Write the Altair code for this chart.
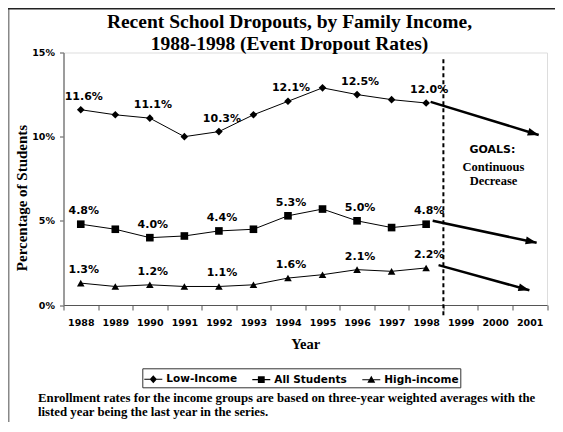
import math
import altair as alt
import pandas as pd

# ---------------- data ----------------
years = [1988, 1989, 1990, 1991, 1992, 1993, 1994, 1995, 1996, 1997, 1998]
axis_years = ["1988", "1989", "1990", "1991", "1992", "1993", "1994",
              "1995", "1996", "1997", "1998", "1999", "2000", "2001"]
series_names = ["Low-Income", "All Students", "High-income"]
low_income = [11.6, 11.3, 11.1, 10.0, 10.3, 11.3, 12.1, 12.9, 12.5, 12.2, 12.0]
all_students = [4.8, 4.5, 4.0, 4.1, 4.4, 4.5, 5.3, 5.7, 5.0, 4.6, 4.8]
high_income = [1.3, 1.1, 1.2, 1.1, 1.1, 1.2, 1.6, 1.8, 2.1, 2.0, 2.2]
labelled_years = [1988, 1990, 1992, 1994, 1996, 1998]

# goal arrows (year, percent)
goal_start_year = [1998.13, 1998.19, 1998.36]
goal_start_value = [12.07, 5.0, 2.37]
goal_end_year = [2001.26, 2001.2, 2000.99]
goal_end_value = [10.1, 3.7, 0.88]

divider_year = [1998.5]
divider_top = [14.6]
divider_bottom = [-0.7]

goals_head = ["GOALS:"]
goals_head_pos = [(1999.92, 9.2)]
goals_notes = ["Continuous", "Decrease"]
goals_notes_pos = [(1999.95, 8.2), (1999.95, 7.35)]

title_lines = ["Recent School Dropouts, by Family Income,",
               "1988-1998 (Event Dropout Rates)"]
footnote_lines = ["Enrollment rates for the income groups are based on three-year weighted averages with the",
                  "listed year being the last year in the series."]

# ---------------- layout ----------------
W, H = 483.5, 252.5
PAD = {"left": 55.5, "top": 44.5, "right": 8, "bottom": 117}

rows = []
for name, vals in zip(series_names, [low_income, all_students, high_income]):
    for yr, v in zip(years, vals):
        rows.append({"year": str(yr), "series": name, "value": v,
                     "label": (f"{v:.1f}%" if yr in labelled_years else "")})
df = pd.DataFrame(rows)

px_year = W / 14.0
px_pct = H / 15.0
goal_df = pd.DataFrame({
    "series": series_names,
    "x0": goal_start_year, "v0": goal_start_value,
    "x1": goal_end_year, "v1": goal_end_value,
})
goal_df["angle"] = [math.degrees(math.atan2((a - b) * px_pct, (d - c) * px_year))
                    for a, b, c, d in zip(goal_start_value, goal_end_value,
                                          goal_start_year, goal_end_year)]
div_df = pd.DataFrame({"x": divider_year, "top": divider_top, "bottom": divider_bottom})
head_df = pd.DataFrame({"text": goals_head, "x": [p[0] for p in goals_head_pos],
                        "y": [p[1] for p in goals_head_pos]})
notes_df = pd.DataFrame({"text": goals_notes, "x": [p[0] for p in goals_notes_pos],
                         "y": [p[1] for p in goals_notes_pos]})

SANS = "DejaVu Sans"
SERIF = "Liberation Serif"

yscale = alt.Scale(domain=[0, 15], nice=False)
yaxis = alt.Axis(values=[0, 5, 10, 15], labelExpr="datum.value + '%'",
                 title="Percentage of Students", titleFont=SERIF, titleFontSize=15,
                 titleFontWeight="bold", titleColor="black", titleX=-42, titleY=145,
                 titleAlign="center", titleBaseline="middle",
                 labelFont=SANS, labelFontWeight="bold", labelFontSize=9.5,
                 labelColor="black", labelPadding=5, tickSize=4, tickColor="#555",
                 domainColor="#808080", domainWidth=1.5, grid=False)


def yq(field):
    return alt.Y(field, type="quantitative", scale=yscale, axis=yaxis)


xscale_o = alt.Scale(domain=axis_years, paddingInner=0, paddingOuter=0)
xaxis = alt.Axis(title="Year", titleFont=SERIF, titleFontSize=14.5, titleFontWeight="bold",
                 titleColor="black", titleY=39, titleBaseline="middle",
                 labelAngle=0, labelFont=SANS, labelFontWeight="bold", labelFontSize=9.5,
                 labelColor="black", labelPadding=7, tickSize=5, tickBand="extent",
                 domainColor="#555", domainWidth=1.2, tickColor="#555", grid=False)
X = alt.X("year:O", scale=xscale_o, axis=xaxis)

xq_scale = alt.Scale(domain=[1987.5, 2001.5], nice=False, zero=False)


def xq(field):
    return alt.X(field, type="quantitative", scale=xq_scale, axis=None)


base = alt.Chart(df)
lines = base.mark_line(color="black", strokeWidth=1).encode(x=X, y=yq("value"), detail="series:N")
points = base.mark_point(filled=True, color="black", opacity=1, size=58).encode(
    x=X, y=yq("value"),
    shape=alt.Shape("series:N", scale=alt.Scale(domain=series_names,
                                                range=["diamond", "square", "triangle-up"]),
                    legend=None))
labels = base.transform_filter("datum.label != ''").mark_text(
    font=SANS, fontWeight="bold", fontSize=11, color="black", dx=3, dy=-13
).encode(x=X, y=yq("value"), text="label:N")

# legend symbols: a short line with the series marker on it (closed, clockwise paths)
legend_paths = [
    "M-1,-0.06L1,-0.06L1,0.06L-1,0.06ZM0,-0.44L0.4,0L0,0.44L-0.4,0Z",
    "M-1,-0.06L1,-0.06L1,0.06L-1,0.06ZM-0.38,-0.38L0.38,-0.38L0.38,0.38L-0.38,0.38Z",
    "M-1,-0.06L1,-0.06L1,0.06L-1,0.06ZM0,-0.44L0.44,0.34L-0.44,0.34Z",
]
legend_layer = base.mark_point(filled=True, color="black", opacity=1, size=0).encode(
    x=X, y=yq("value"),
    shape=alt.Shape("series:N", scale=alt.Scale(domain=series_names, range=legend_paths),
                    legend=alt.Legend(orient="none", legendX=78.8, legendY=315.8,
                                      direction="horizontal", title=None,
                                      strokeColor="#333", padding=1,
                                      labelFont=SANS, labelFontWeight="bold",
                                      labelFontSize=10.5, labelColor="black",
                                      symbolSize=324, symbolFillColor="black",
                                      columnPadding=12, labelOffset=3)))

main = alt.layer(lines, points, labels, legend_layer).resolve_scale(shape="independent")

divider = alt.Chart(div_df).mark_rule(color="black", strokeWidth=2, strokeDash=[4, 3]).encode(
    x=xq("x"), y=yq("top"), y2="bottom")
arrows = alt.Chart(goal_df).mark_rule(color="black", strokeWidth=2.5).encode(
    x=xq("x0"), x2="x1", y=yq("v0"), y2="v1")
heads = alt.Chart(goal_df).mark_point(shape="M0,0L-1,-0.36L-1,0.36Z", filled=True,
                                      color="black", opacity=1, size=484).encode(
    x=xq("x1"), y=yq("v1"), angle=alt.Angle("angle:Q", scale=None))
goal_head = alt.Chart(head_df).mark_text(font=SANS, fontWeight="bold", fontSize=11,
                                         color="black").encode(
    x=xq("x"), y=yq("y"), text="text:N")
goal_notes = alt.Chart(notes_df).mark_text(font=SERIF, fontWeight="bold", fontSize=12.5,
                                           color="black").encode(
    x=xq("x"), y=yq("y"), text="text:N")

overlay = alt.layer(divider, arrows, heads, goal_head, goal_notes)

one = pd.DataFrame({"k": [0]})
frame_left = alt.Chart(one).mark_rule(color="#888", strokeWidth=1.5).encode(
    x=alt.value(-54.75), y=alt.value(-44.5), y2=alt.value(H + PAD["bottom"]))
frame_top = alt.Chart(one).mark_rule(color="#222", strokeWidth=1.5).encode(
    x=alt.value(-55.5), x2=alt.value(W + PAD["right"]), y=alt.value(-43.75))
title = alt.Chart(one).mark_text(text=title_lines, font=SERIF, fontWeight="bold",
                                 fontSize=19.5, color="black", align="center",
                                 baseline="alphabetic", lineHeight=21.7).encode(
    x=alt.value(226), y=alt.value(-24.2))
footnote = alt.Chart(one).mark_text(text=footnote_lines, font=SERIF, fontWeight="bold",
                                    fontSize=12.8, color="black", align="left",
                                    baseline="middle", lineHeight=13.4).encode(
    x=alt.value(-25.5), y=alt.value(345.8))

chart = alt.layer(main, overlay, frame_left, frame_top, title, footnote).resolve_scale(
    x="independent"
).properties(
    width=W, height=H, padding=PAD, autosize="none",
).configure_view(stroke=None).configure_legend(
    strokeColor="#333", strokeWidth=1
).configure(background="white")

chart.save("out.html", embed_options={"renderer": "svg", "actions": False})
